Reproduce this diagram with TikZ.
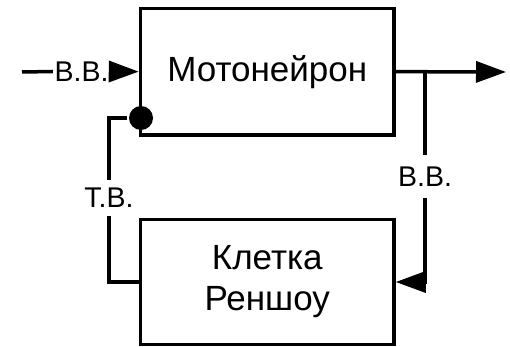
\documentclass[tikz,border=0pt]{standalone}
\usepackage{fontspec}
\setmainfont{Liberation Sans}
\usetikzlibrary{arrows.meta}
\begin{document}
\begin{tikzpicture}[x=1pt,y=-1pt,
  every path/.style={line width=3.5pt},
  box/.style={draw, line width=3.5pt, minimum width=253.5pt, inner sep=0pt, align=center, font=\fontsize{35}{41}\selectfont},
  lbl/.style={inner xsep=0pt, font=\fontsize{28.5}{32}\selectfont},
  tri/.style={-{Triangle[length=30pt,width=21pt]}},
  dot/.style={circle, fill=black, inner sep=0pt, minimum size=24pt}]
\useasboundingbox (0,0) rectangle (510,347);
\node[box, minimum height=126.7pt] (top) at (267.25,71.65) {Мотонейрон};
\node[box, minimum height=125pt] (bot) at (267.25,282) {Клетка\\Реншоу};
% input
\coordinate (in) at (22,72);
\node[lbl, inner ysep=0pt] (lin) at (81.5,71.5) {В.В.};
\draw (in) -- (lin.west);
\draw[tri] (lin.east) -- (top.west);
% output
\coordinate (out) at (506,72);
\draw[tri] (top.east) -- (out);
% right feedback
\coordinate (jr) at (425,72);
\node[lbl, inner ysep=10pt] (lr) at (425,176.5) {В.В.};
\draw (jr) -- (lr.north);
\draw[tri] (lr.south) |- (bot.east);
% left feedback
\node[dot] (c) at (141,118) {};
\node[lbl, inner ysep=6pt] (ll) at (109,198) {Т.В.};
\draw (c) -| (ll.north);
\draw (ll.south) |- (bot.west);
\end{tikzpicture}
\end{document}
